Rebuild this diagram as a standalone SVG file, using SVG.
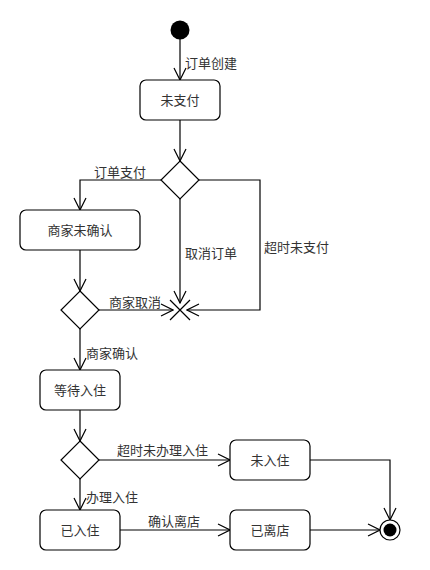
<svg xmlns="http://www.w3.org/2000/svg" width="430" height="570" viewBox="0 0 430 570">
<style>
.box{fill:#fff;stroke:#000;stroke-width:1.2}
.dec{fill:#fff;stroke:#000;stroke-width:1.2}
.ln{fill:none;stroke:#000;stroke-width:1.2}
text{font-family:"Noto Sans CJK SC","Noto Sans",sans-serif;font-size:13px;fill:#333}
.c{text-anchor:middle}
</style>
<defs>
<marker id="ar" viewBox="0 0 14 14" refX="13" refY="7" markerWidth="14" markerHeight="14" markerUnits="userSpaceOnUse" orient="auto">
<path d="M1,1 L13,7 L1,13" fill="none" stroke="#000" stroke-width="1.2"/>
</marker>
</defs>
<rect width="430" height="570" fill="#fff"/>
<g id="connectors">
<path class="ln" d="M180,39 V80" marker-end="url(#ar)"/>
<path class="ln" d="M180,120 V161" marker-end="url(#ar)"/>
<path class="ln" d="M161,180 H80 V210" marker-end="url(#ar)"/>
<path class="ln" d="M180,199 V303" marker-end="url(#ar)"/>
<path class="ln" d="M199,180 H260 V310 H187" marker-end="url(#ar)"/>
<path class="ln" d="M80,250 V291" marker-end="url(#ar)"/>
<path class="ln" d="M99,310 H173" marker-end="url(#ar)"/>
<path class="ln" d="M80,329 V370" marker-end="url(#ar)"/>
<path class="ln" d="M80,410 V441" marker-end="url(#ar)"/>
<path class="ln" d="M99,460 H230" marker-end="url(#ar)"/>
<path class="ln" d="M80,479 V510" marker-end="url(#ar)"/>
<path class="ln" d="M120,530 H230" marker-end="url(#ar)"/>
<path class="ln" d="M310,460 H390 V520" marker-end="url(#ar)"/>
<path class="ln" d="M310,530 H380" marker-end="url(#ar)"/>
<text x="185" y="68">订单创建</text>
<text x="94" y="177">订单支付</text>
<text x="185" y="258">取消订单</text>
<text x="264" y="252">超时未支付</text>
<text x="109" y="307">商家取消</text>
<text x="86" y="358">商家确认</text>
<text x="117" y="455">超时未办理入住</text>
<text x="86" y="502">办理入住</text>
<text x="148" y="526">确认离店</text>
</g>
<g id="start"><circle cx="180" cy="30" r="9.5" fill="#000"/></g>
<g id="n_unpaid"><rect class="box" x="140" y="80" width="80" height="40" rx="6"/><text class="c" x="180" y="105">未支付</text></g>
<g id="d1"><path class="dec" d="M180,161 L199,180 L180,199 L161,180 Z"/></g>
<g id="n_unconfirmed"><rect class="box" x="20" y="210" width="120" height="40" rx="6"/><text class="c" x="80" y="235">商家未确认</text></g>
<g id="d2"><path class="dec" d="M80,291 L99,310 L80,329 L61,310 Z"/></g>
<g id="cancel_end"><path class="ln" d="M170,300 L190,320 M190,300 L170,320"/></g>
<g id="n_waiting"><rect class="box" x="40" y="370" width="80" height="40" rx="6"/><text class="c" x="80" y="395">等待入住</text></g>
<g id="d3"><path class="dec" d="M80,441 L99,460 L80,479 L61,460 Z"/></g>
<g id="n_noshow"><rect class="box" x="230" y="440" width="80" height="40" rx="6"/><text class="c" x="270" y="465">未入住</text></g>
<g id="n_checkedin"><rect class="box" x="40" y="510" width="80" height="40" rx="6"/><text class="c" x="80" y="535">已入住</text></g>
<g id="n_left"><rect class="box" x="230" y="510" width="80" height="40" rx="6"/><text class="c" x="270" y="535">已离店</text></g>
<g id="final"><circle cx="390" cy="530" r="10" fill="#fff" stroke="#000" stroke-width="1.2"/><circle cx="390" cy="530" r="6.5" fill="#000"/></g>
</svg>
